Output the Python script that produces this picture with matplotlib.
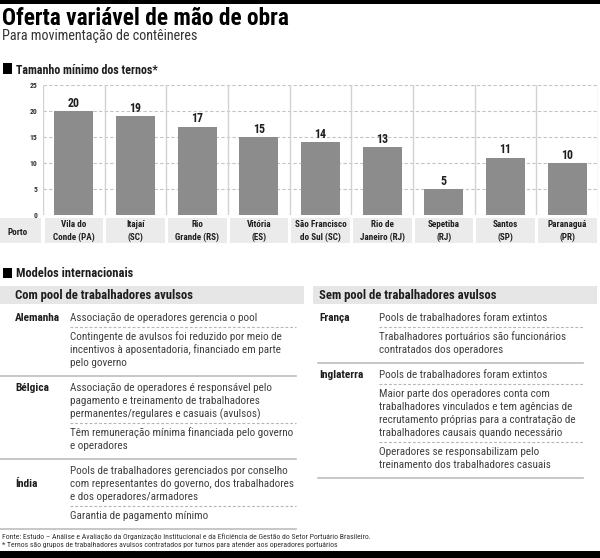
import matplotlib

matplotlib.use("Agg")

import matplotlib.pyplot as plt  # noqa: E402
from matplotlib import font_manager  # noqa: E402
from matplotlib.font_manager import FontProperties  # noqa: E402
from matplotlib.lines import Line2D  # noqa: E402
from matplotlib.patches import Rectangle  # noqa: E402

W, H = 600, 558

# --- data -----------------------------------------------------------------
ports = [
    "Vila do\nConde (PA)", "Itajaí\n(SC)", "Rio\nGrande (RS)", "Vitória\n(ES)",
    "São Francisco\ndo Sul (SC)", "Rio de\nJaneiro (RJ)", "Sepetiba\n(RJ)",
    "Santos\n(SP)", "Paranaguá\n(PR)",
]
min_crew = [20, 19, 17, 15, 14, 13, 5, 11, 10]
y_ticks = [0, 5, 10, 15, 20, 25]

with_pool = [
    ("Alemanha", [
        ["Associação de operadores gerencia o pool"],
        ["Contingente de avulsos foi reduzido por meio de",
         "incentivos à aposentadoria, financiado em parte",
         "pelo governo"],
    ]),
    ("Bélgica", [
        ["Associação de operadores é responsável pelo",
         "pagamento e treinamento de trabalhadores",
         "permanentes/regulares e casuais (avulsos)"],
        ["Têm remuneração mínima financiada pelo governo",
         "e operadores"],
    ]),
    ("Índia", [
        ["Pools de trabalhadores gerenciados por conselho",
         "com representantes do governo, dos trabalhadores",
         "e dos operadores/armadores"],
        ["Garantia de pagamento mínimo"],
    ]),
]
without_pool = [
    ("França", [
        ["Pools de trabalhadores foram extintos"],
        ["Trabalhadores portuários são funcionários",
         "contratados dos operadores"],
    ]),
    ("Inglaterra", [
        ["Pools de trabalhadores foram extintos"],
        ["Maior parte dos operadores conta com",
         "trabalhadores vinculados e tem agências de",
         "recrutamento próprias para a contratação de",
         "trabalhadores causais quando necessário"],
        ["Operadores se responsabilizam pelo",
         "treinamento dos trabalhadores casuais"],
    ]),
]

title = "Oferta variável de mão de obra"
subtitle = "Para movimentação de contêineres"
chart_title = "Tamanho mínimo dos ternos*"
table_title = "Modelos internacionais"
left_header = "Com pool de trabalhadores avulsos"
right_header = "Sem pool de trabalhadores avulsos"
footer = [
    "Fonte: Estudo – Análise e Avaliação da Organização Institucional e da "
    "Eficiência de Gestão do Setor Portuário Brasileiro.",
    "* Ternos são grupos de trabalhadores avulsos contratados por turnos para "
    "atender aos operadores portuários",
]


# --- fonts: prefer a condensed sans if one is installed ----------------------
PREFERRED = ["Liberation Sans Narrow", "Roboto Condensed", "Open Sans",
             "Noto Sans", "Roboto", "DejaVu Sans"]


def _weight(f):
    w = f.weight
    if isinstance(w, str):
        w = {"normal": 400, "regular": 400, "bold": 700}.get(w, 400)
    return int(w)


def condensed_file(lo, hi):
    best = None
    for f in font_manager.fontManager.ttflist:
        if f.style != "normal":
            continue
        narrow = (f.stretch in ("condensed", "semi-condensed")
                  or "Narrow" in f.name or "Condensed" in f.name)
        if not narrow or not (lo <= _weight(f) <= hi):
            continue
        rank = PREFERRED.index(f.name) if f.name in PREFERRED else len(PREFERRED)
        if f.stretch == "semi-condensed":
            rank += 0.5
        if best is None or rank < best[0]:
            best = (rank, f.fname)
    return best[1] if best else None


reg_file = condensed_file(380, 420)
bold_file = condensed_file(600, 720)


def fp(kind):
    path = reg_file if kind == "regular" else bold_file
    if path:
        return FontProperties(fname=path)
    return FontProperties(family="Liberation Sans",
                          weight="normal" if kind == "regular" else "bold")


BAR = "#8c8c8c"
CELL = "#ebebeb"
TEXT = "#404040"
DARK = "#1e1e1e"
RULE = "#bdbdbd"

fig = plt.figure(figsize=(W / 100, H / 100), dpi=100)
fig.patch.set_facecolor("white")
renderer = fig.canvas.get_renderer()


def fx(x):
    return x / W


def fy(y):
    return 1 - y / H


def font(kind, size):
    p = fp(kind)
    p.set_size(size)
    return p


def size_for(text, width, kind="regular"):
    """Font size (pt) making `text` about `width` pixels wide."""
    t = fig.text(0, 0, text, fontproperties=font(kind, 10))
    w = t.get_window_extent(renderer).width
    t.remove()
    return 10 * width / w


def put(x, y, s, size, kind="regular", color=TEXT, ha="left", va="center"):
    return fig.text(fx(x), fy(y), s, fontproperties=font(kind, size),
                    color=color, ha=ha, va=va)


def hline(x0, x1, y, color=RULE, lw=1.0, dashed=False):
    ln = Line2D([fx(x0), fx(x1)], [fy(y), fy(y)], transform=fig.transFigure,
                color=color, lw=lw)
    if dashed:
        ln.set_dashes((2.5, 1.8))
    fig.add_artist(ln)


def box(x0, y0, x1, y1, color):
    fig.add_artist(Rectangle((fx(x0), fy(y1)), fx(x1) - fx(x0), fy(y0) - fy(y1),
                             transform=fig.transFigure, color=color, lw=0))


# --- header ---------------------------------------------------------------
box(0, 0, W, 4, "black")
box(0, 551, W, H, "black")
put(2, 25, title, size_for(title, 288, "bold"), "bold", "black", va="baseline")
put(2, 40, subtitle, size_for(subtitle, 195), color="#333333", va="baseline")

box(3, 63, 12, 74, "black")
put(16, 74, chart_title, size_for(chart_title, 142, "bold"), "bold", DARK, va="baseline")
box(3, 268, 12, 278, "black")
put(16, 277, table_title, size_for(table_title, 117, "bold"), "bold", DARK, va="baseline")

# --- bar chart ------------------------------------------------------------
ax_l, ax_r, ax_t, ax_b = 43, 598, 85, 215
ax = fig.add_axes([fx(ax_l), fy(ax_b), fx(ax_r) - fx(ax_l), fy(ax_t) - fy(ax_b)])
pos = list(range(len(ports)))
ax.set_xlim(-0.5, len(ports) - 0.5)
ax.set_ylim(0, 25)
for yv in y_ticks:
    ax.axhline(yv, color="#c4c4c4", lw=0.8, dashes=(3, 2), zorder=0)
for k in range(len(ports) + 1):
    ax.axvline(k - 0.5, color="#d2d2d2", lw=1.0, zorder=0)
bars = ax.bar(pos, min_crew, width=0.63, color=BAR, zorder=2)
val_font = font("bold", size_for("20", 12, "bold"))
ax.bar_label(bars, labels=[str(v) for v in min_crew], padding=1,
             fontproperties=val_font, color=DARK)
ax.set_xticks([])
ax.set_yticks(y_ticks)
ax.set_yticklabels([str(v) for v in y_ticks], fontproperties=font("bold", 5.5),
                   color="#333333")
ax.tick_params(axis="y", length=0, pad=4)
for sp in ax.spines.values():
    sp.set_visible(False)
ax.patch.set_alpha(0)

# category label row
unit = (ax_r - ax_l) / len(ports)
lab = fig.add_axes([0, fy(243), fx(ax_r), fy(218) - fy(243)])
lab.set_xlim(-0.5 - ax_l / unit, len(ports) - 0.5)
lab.set_ylim(0, 1)
lab.axis("off")
lab.bar(pos, [1] * len(ports), width=1 - 3 / unit, bottom=0, color=CELL, lw=0)
lab.add_patch(Rectangle((-0.5 - ax_l / unit, 0), (ax_l - 2) / unit, 1,
                        color=CELL, lw=0))
port_font = font("bold", size_for("Conde (PA)", 42, "bold"))
for p, name in zip(pos, ports):
    for j, line in enumerate(name.split("\n")):
        lab.text(p, 0.74 - j * 0.52, line, fontproperties=port_font,
                 color=DARK, ha="center", va="center")
lab.text(-0.5 - ax_l / unit + 18 / unit, 0.44, "Porto", fontproperties=port_font,
         color=DARK, ha="center", va="center")

# --- tables ---------------------------------------------------------------
box(0, 286, 304, 304, "#e6e6e6")
box(313, 286, 597, 304, "#e6e6e6")
head_size = size_for(left_header, 178, "bold")
put(15, 296, left_header, head_size, "bold", DARK)
put(319, 296, right_header, head_size, "bold", DARK)

body_size = 0.95 * size_for("Associação de operadores gerencia o pool", 197)
label_size = size_for("Alemanha", 45, "bold")
LH = 13
centered_labels = {"Índia"}


def draw_table(rows, x_label, x_text, x_rule0, x_rule1, y):
    for country, items in rows:
        first = None
        for k, item in enumerate(items):
            ys = []
            for line in item:
                put(x_text, y, line, body_size, color=TEXT)
                ys.append(y)
                y += LH
            if first is None:
                first = ys
            y_last = y - LH
            if k < len(items) - 1:
                hline(x_text, x_rule1, y_last + 9, color="#b5b5b5", lw=0.8, dashed=True)
                y = y_last + 19
        hline(x_rule0, x_rule1, y_last + 13, color=RULE, lw=1.2)
        y = y_last + 25
        ly = sum(first) / len(first) if country in centered_labels else first[0]
        put(x_label, ly, country, label_size, "bold", DARK)


draw_table(with_pool, 15, 70, 0, 296, 318)
draw_table(without_pool, 319, 379, 318, 583, 318)

# --- footer ---------------------------------------------------------------
foot_size = size_for(footer[0], 368)
put(2, 537, footer[0], foot_size, color="#333333")
put(2, 545, footer[1], foot_size, color="#333333")

fig.savefig("out.png", dpi=100, facecolor="white")
